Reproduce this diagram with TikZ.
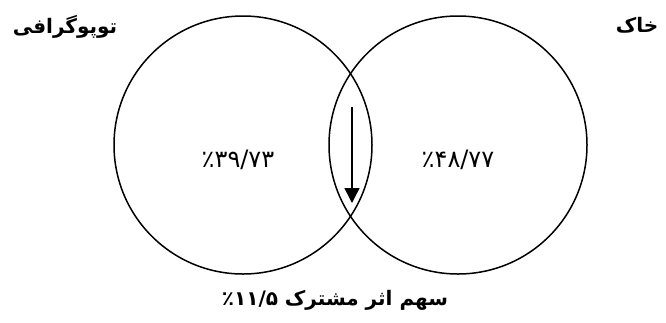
\documentclass[tikz,border=0pt]{standalone}
\usepackage{fontspec}
\usetikzlibrary{arrows.meta}
\TeXXeTstate=1
\newfontfamily\fafont[Script=Arabic]{DejaVu Sans}
\newcommand{\fa}[1]{\fafont\beginR #1\endR}

\begin{document}
\begin{tikzpicture}[x=1pt,y=-1pt,
  set/.style={circle,draw=black,line width=1.5pt,minimum size=258pt,inner sep=0pt},
  title/.style={font=\fafont\bfseries\fontsize{20}{24}\selectfont,inner sep=0pt},
  share/.style={font=\fafont\fontsize{24}{28}\selectfont,inner sep=0pt},
  arrow/.style={-{Triangle[length=15pt,width=15pt]},line width=1.5pt}]
\useasboundingbox (0,0) rectangle (666,322);
% the two sets
\node[set] (topo) at (243,145) {};
\node[set] (khak) at (458,145) {};
% names
\node[title] (toponame) at (65,27) {\fa{توپوگرافی}};
\node[title] (khakname) at (637,25) {\fa{خاک}};
% shares
\node[share] (toposhare) at (238,160) {٪۳۹/۷۳};
\node[share] (khakshare) at (458,160) {٪۴۸/۷۷};
\node[title] (common) at (335,300) {\fa{سهم اثر مشترک \beginL٪۱۱/۵\endL}};
% arrow in the overlap
\coordinate (arrowtop) at (352,107);
\coordinate (arrowtip) at (352,203);
\draw[arrow] (arrowtop) -- (arrowtip);
\end{tikzpicture}
\end{document}
